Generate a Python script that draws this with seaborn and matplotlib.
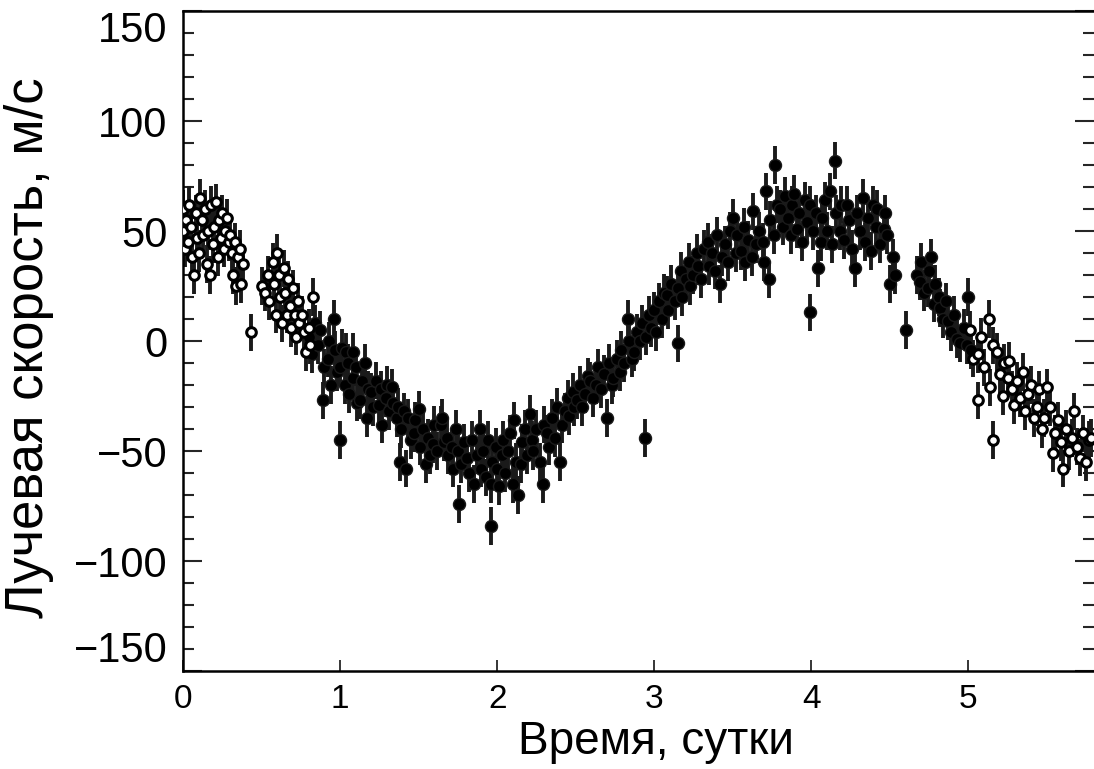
import matplotlib
matplotlib.use("Agg")
import matplotlib.pyplot as plt
import seaborn as sns
import pandas as pd

# ---- data (time in days, radial velocity in m/s) ----
filled_t = [
    0.80, 0.82, 0.84, 0.86, 0.87, 0.89, 0.90, 0.92, 0.93, 0.94, 0.96, 0.97, 0.98, 1.00, 1.00, 1.01,
    1.03, 1.04, 1.05, 1.06, 1.08, 1.08, 1.10, 1.11, 1.13, 1.14, 1.16, 1.17, 1.18, 1.20, 1.21,
    1.23, 1.25, 1.26, 1.27, 1.29, 1.30, 1.31, 1.33, 1.34, 1.36, 1.37, 1.38, 1.39, 1.41, 1.42,
    1.43, 1.45, 1.47, 1.48, 1.50, 1.51,
    1.53, 1.55, 1.56, 1.57, 1.59, 1.60, 1.62, 1.64, 1.65, 1.66, 1.68, 1.69, 1.71, 1.72, 1.74,
    1.75, 1.76, 1.77, 1.79, 1.81, 1.82, 1.84, 1.85, 1.87, 1.89, 1.90, 1.91, 1.93, 1.94, 1.96,
    1.96, 1.97, 1.99, 2.00, 2.01,
    2.03, 2.04, 2.05, 2.07, 2.08, 2.10, 2.11, 2.12, 2.13, 2.15, 2.16, 2.18, 2.19, 2.21, 2.22,
    2.23, 2.25, 2.27, 2.29, 2.30, 2.32, 2.33, 2.35, 2.37, 2.38, 2.40, 2.41, 2.43, 2.45, 2.46,
    2.48, 2.49,
    2.51, 2.53, 2.54, 2.56, 2.58, 2.59, 2.61, 2.63, 2.64, 2.66, 2.68, 2.70, 2.71, 2.73, 2.74,
    2.76, 2.78, 2.79, 2.81, 2.83, 2.84, 2.86, 2.87, 2.89, 2.91, 2.92, 2.94, 2.95, 2.97, 2.98, 3.00,
    3.01, 3.03, 3.05, 3.06, 3.08, 3.09, 3.11, 3.13, 3.15, 3.15, 3.17, 3.18, 3.20, 3.22, 3.23,
    3.25, 3.27, 3.28, 3.30, 3.32, 3.34, 3.35, 3.37, 3.39, 3.40, 3.42, 3.43, 3.45, 3.47, 3.48, 3.50,
    3.52, 3.53, 3.55, 3.57, 3.58, 3.60, 3.62, 3.63, 3.65, 3.67, 3.69, 3.70, 3.71, 3.73, 3.74,
    3.76, 3.77, 3.78, 3.80, 3.82, 3.83, 3.85, 3.87, 3.88, 3.89, 3.91, 3.92, 3.94, 3.96, 3.97,
    3.99, 3.99,
    4.01, 4.03, 4.04, 4.06, 4.07, 4.09, 4.10, 4.12, 4.13, 4.15, 4.16, 4.18, 4.19, 4.21, 4.23,
    4.24, 4.26, 4.28, 4.29, 4.31, 4.33, 4.34, 4.36, 4.38, 4.39, 4.41, 4.42, 4.44, 4.46, 4.47,
    4.48, 4.50, 4.52, 4.53,
    4.60, 4.67, 4.69, 4.70, 4.72, 4.74, 4.75, 4.76, 4.78, 4.79, 4.81, 4.82, 4.84, 4.86, 4.87,
    4.89, 4.91, 4.93, 4.95, 4.97, 4.99, 5.00, 5.02,
]
filled_v = [
    2, -6, 8, -2, 5, -27, -12, -8, 0, -20, 10, -4, -14, -12, -45, -3,
    -20, -5, -10, -24, -5, -17, -12, -28, -27, -18, -10, -35, -22, -23, -30,
    -18, -29, -22, -38, -26, -20, -32, -21, -28, -35, -30, -55, -40, -32, -58,
    -35, -45, -42, -36, -31, -48,
    -40, -56, -44, -52, -47, -38, -50, -38, -35, -46, -44, -52, -48, -58, -40,
    -50, -74, -56, -46, -53, -60, -45, -65, -52, -40, -58, -50, -62, -45, -65,
    -84, -55, -48, -58, -66,
    -52, -45, -60, -50, -42, -65, -36, -55, -70, -56, -46, -40, -52, -33, -45,
    -50, -40, -55, -65, -38, -42, -48, -35, -44, -30, -55, -38, -32, -26, -34,
    -23, -30,
    -27, -20, -30, -24, -16, -18, -26, -20, -12, -22, -15, -35, -10, -20, -17,
    -8, -14, -4, -10, 10, 0, -8, -5, 4, 0, 8, -44, 2, 12, 6, 14,
    4, 18, 10, 22, 21, 14, 26, 18, -1, 24, 32, 20, 28, 36, 25,
    30, 40, 34, 28, 42, 45, 34, 40, 32, 48, 26, 38, 44, 36, 50, 56,
    40, 48, 41, 52, 36, 46, 38, 59, 44, 50, 45, 36, 68, 28, 55,
    48, 80, 62, 60, 52, 66, 56, 48, 62, 67, 51, 58, 45, 64, 54,
    62, 13,
    50, 58, 33, 45, 56, 64, 50, 68, 44, 82, 58, 50, 62, 46, 62,
    55, 42, 33, 58, 50, 65, 45, 56, 41, 62, 52, 60, 44, 51, 58,
    48, 26, 38, 30,
    5, 30, 27, 36, 22, 24, 32, 38, 17, 26, 20, 15, 10, 18, 9,
    4, 12, 1, -1, 6, -2, 20, -4,
]

open_t = [
    0.00, 0.00, 0.01, 0.02, 0.03, 0.04, 0.05, 0.06, 0.07, 0.08, 0.09, 0.10, 0.11, 0.12, 0.13,
    0.14, 0.15, 0.16, 0.17, 0.18, 0.19, 0.20, 0.21, 0.22, 0.23, 0.24, 0.25, 0.26, 0.27, 0.28,
    0.29, 0.30, 0.31, 0.32, 0.33, 0.34, 0.35, 0.36, 0.37, 0.38, 0.43,
    0.50, 0.52, 0.54, 0.55, 0.57, 0.58, 0.59, 0.60, 0.61, 0.62, 0.63, 0.64, 0.65, 0.66, 0.67,
    0.68, 0.69, 0.70, 0.71, 0.72, 0.73, 0.74, 0.76, 0.77, 0.78, 0.80, 0.81, 0.83,
    5.01, 5.03, 5.06, 5.06, 5.08, 5.10, 5.13, 5.14, 5.16, 5.16, 5.18, 5.20, 5.22, 5.23, 5.25,
    5.26, 5.28, 5.29, 5.31, 5.33, 5.35, 5.36, 5.38, 5.40, 5.42, 5.44, 5.45, 5.47, 5.48, 5.50,
    5.52, 5.54, 5.55, 5.57, 5.59, 5.60, 5.62, 5.64, 5.66, 5.67, 5.69, 5.71, 5.73, 5.75, 5.77, 5.78,
]
open_v = [
    60, 50, 42, 55, 45, 62, 52, 38, 30, 58, 47, 40, 65, 55, 48,
    60, 35, 50, 30, 62, 44, 52, 63, 38, 55, 47, 58, 42, 50, 56,
    45, 48, 40, 30, 45, 25, 38, 42, 26, 35, 4,
    25, 22, 30, 18, 36, 26, 12, 40, 30, 20, 8, 33, 22, 12, 28,
    16, 6, 24, 12, 2, 18, 8, 12, 4, -5, 6, -2, 20,
    5, -8, -6, -27, 2, -12, 10, -21, -45, -2, -5, -15, -25, -10, -17,
    -9, -22, -29, -18, -26, -14, -32, -24, -20, -35, -30, -22, -40, -35, -21,
    -30, -51, -42, -36, -46, -58, -40, -50, -44, -32, -48, -53, -42, -55, -45, -44,
]

ERR = 8.5  # typical error bar half-length, m/s

x_ticks = [0, 1, 2, 3, 4, 5]
y_ticks = [-150, -100, -50, 0, 50, 100, 150]
x_label = "Время, сутки"
y_label = "Лучевая скорость, м/с"

# ---- figure ----
sns.set_style("ticks")
plt.rcParams["font.family"] = ["Liberation Sans", "DejaVu Sans"]

fig = plt.figure(figsize=(10.94, 7.69), dpi=100)
ax = fig.add_axes([183 / 1094, 1 - 671 / 769, (1094 - 183) / 1094, 660 / 769])

df_f = pd.DataFrame({"t": filled_t, "v": filled_v})
df_o = pd.DataFrame({"t": open_t, "v": open_v})

ecol = "#1a1a1a"
ax.errorbar(df_f["t"], df_f["v"], yerr=ERR, fmt="none", ecolor=ecol, elinewidth=2.8, capsize=0, zorder=2)
ax.errorbar(df_o["t"], df_o["v"], yerr=ERR, fmt="none", ecolor=ecol, elinewidth=2.8, capsize=0, zorder=2)
sns.scatterplot(data=df_f, x="t", y="v", ax=ax, s=75, color="black", edgecolor="#1a1a1a",
                linewidth=1.0, zorder=3, legend=False)
sns.scatterplot(data=df_o, x="t", y="v", ax=ax, s=48, color="white", edgecolor="black",
                linewidth=2.2, zorder=4, legend=False)

ax.set_xlim(0, 5.8)
ax.set_ylim(-150, 150)
ax.set_xticks(x_ticks)
ax.set_xticklabels([str(t) for t in x_ticks])
ax.set_yticks(y_ticks)
ax.set_yticklabels([str(t).replace("-", "\u2212") for t in y_ticks])
ax.set_yticks(range(-150, 151, 10), minor=True)

for sp in ["left", "bottom", "top"]:
    ax.spines[sp].set_linewidth(1.8)
    ax.spines[sp].set_color("black")
ax.spines["right"].set_visible(False)

ax.tick_params(axis="y", which="major", direction="in", length=14, width=1.5, labelsize=30,
               pad=11, left=True, right=True, labelcolor="black")
ax.tick_params(axis="y", which="minor", direction="in", length=8, width=1.5, left=True, right=True)
ax.tick_params(axis="x", which="major", direction="in", length=8, width=1.3, labelsize=24,
               pad=9, top=False, labelcolor="black")
ax.tick_params(axis="x", which="minor", bottom=False, top=False)

ax.set_xlabel(x_label, fontsize=33, color="black")
ax.set_ylabel(y_label, fontsize=38, color="black")
ax.xaxis.set_label_coords(0.519, -0.075)
ax.yaxis.set_label_coords(-0.142, 0.49)

# end labels sit inside the axis range like in the reference
fig.canvas.draw()
yt = ax.yaxis.get_major_ticks()
yt[-1].label1.set_verticalalignment("top")
yt[0].label1.set_verticalalignment("bottom")

fig.savefig("out.png", dpi=100, facecolor="white")
